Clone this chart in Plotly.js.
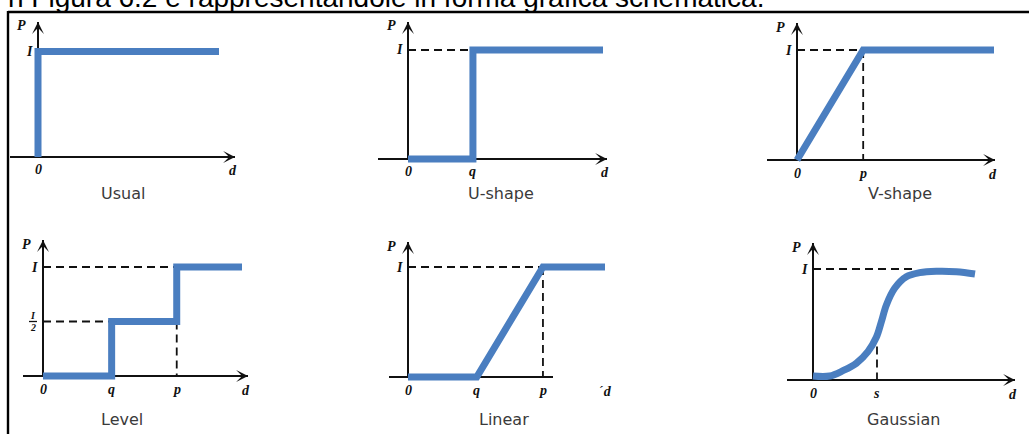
<!DOCTYPE html>
<html>
<head>
<meta charset="utf-8">
<script src="https://cdn.plot.ly/plotly-3.0.1.min.js"></script>
<style>
html, body { margin: 0; padding: 0; background: #fff; }
#chart { width: 1029px; height: 434px; }
</style>
</head>
<body>
<div id="chart"></div>
<script>
// thresholds (d in units of the curve end, P in units of I)
let qU = 0.333;
let pV = 0.336;
let qLevel = 0.345;
let pLevel = 0.672;
let qLinear = 0.349;
let pLinear = 0.685;
let sGauss = 0.395;
let gaussMeetD = 0.62;   // where the dashed I line runs under the curve
let gaussAtS = 0.42;     // curve height above s

let usualD = [0, 0, 1];
let usualP = [0, 1, 1];
let uShapeD = [0, qU, qU, 1];
let uShapeP = [0, 0, 1, 1];
let vShapeD = [0, pV, 1];
let vShapeP = [0, 1, 1];
let levelD = [0, qLevel, qLevel, pLevel, pLevel, 1];
let levelP = [0, 0, 0.5, 0.5, 1, 1];
let linearD = [0, qLinear, pLinear, 1];
let linearP = [0, 0, 1, 1];
let gaussD = [0, 0.103, 0.185, 0.267, 0.339, 0.391, 0.422, 0.453, 0.504, 0.576, 0.658, 0.761, 0.885, 1.0];
let gaussP = [0.036, 0.036, 0.084, 0.15, 0.255, 0.385, 0.525, 0.676, 0.826, 0.93, 0.967, 0.98, 0.976, 0.955];

let captions = ['Usual', 'U-shape', 'V-shape', 'Level', 'Linear', 'Gaussian'];
let tickText = [['0'], ['0', 'q'], ['0', 'p'], ['0', 'q', 'p'], ['0', 'q', 'p'], ['0', 's']];
let tickVals = [[0], [0, qU], [0, pV], [0, qLevel, pLevel], [0, qLinear, pLinear], [0, sGauss]];

let curves = [
    {d: usualD, p: usualP, smooth: false},
    {d: uShapeD, p: uShapeP, smooth: false},
    {d: vShapeD, p: vShapeP, smooth: false},
    {d: levelD, p: levelP, smooth: false},
    {d: linearD, p: linearP, smooth: false},
    {d: gaussD, p: gaussP, smooth: true}
];

// dashed guide segments [[d0, d1], [p0, p1]]
let guides = [
    [],
    [[[0, qU], [1, 1]]],
    [[[0, pV], [1, 1]], [[pV, pV], [1, 0]]],
    [[[0, pLevel], [1, 1]], [[0, qLevel], [0.5, 0.5]], [[pLevel, pLevel], [0.5, 0]]],
    [[[0, pLinear], [1, 1]], [[pLinear, pLinear], [1, 0]]],
    [[[0, gaussMeetD], [1, 1]], [[sGauss, sGauss], [gaussAtS, 0]]]
];

let W = 1029, H = 434;
let blue = '#4a7ec0';
let ink = '#111111';

// pixel frame of each sketch: origin, px per unit d / P, axis ends, caption centre
let frames = [
    {ox: 38, oy: 157, sx: 181, sy: 105.5, axL: 10, axR: 235, axT: 22, arrow: true, cx: 123, cy: 194},
    {ox: 408, oy: 159, sx: 195, sy: 109, axL: 378, axR: 607, axT: 22, arrow: true, cx: 501, cy: 194},
    {ox: 797, oy: 160, sx: 197, sy: 110, axL: 767, axR: 995, axT: 23, arrow: true, cx: 900, cy: 194},
    {ox: 43, oy: 376, sx: 199, sy: 109, axL: 23, axR: 248, axT: 240, arrow: true, cx: 122, cy: 419},
    {ox: 408, oy: 377, sx: 197, sy: 110, axL: 389, axR: 553, axT: 242, arrow: false, cx: 504, cy: 419},
    {ox: 813, oy: 380, sx: 162, sy: 111, axL: 787, axR: 1015, axT: 243, arrow: true, cx: 903, cy: 419}
];

let labelFont = {family: 'Liberation Serif, serif', size: 14, color: ink};

function it(t) {
    return '<b><i>' + t + '</i></b>';
}

let data = [];
let layout = {
    width: W,
    height: H,
    margin: {l: 0, r: 0, t: 0, b: 0},
    paper_bgcolor: '#ffffff',
    plot_bgcolor: 'rgba(0,0,0,0)',
    showlegend: false,
    annotations: [],
    shapes: []
};

for (let i = 0; i < 6; i++) {
    let f = frames[i];
    let n = i == 0 ? '' : String(i + 1);
    let xr = 'x' + n, yr = 'y' + n;
    let L = f.axL - 6;
    let R = Math.max(f.axR, f.ox + f.sx) + 8;
    let T = f.axT - 6;
    let B = f.oy + 8;
    layout['xaxis' + n] = {
        domain: [L / W, R / W],
        range: [(L - f.ox) / f.sx, (R - f.ox) / f.sx],
        visible: false, fixedrange: true, anchor: yr
    };
    layout['yaxis' + n] = {
        domain: [1 - B / H, 1 - T / H],
        range: [(f.oy - B) / f.sy, (f.oy - T) / f.sy],
        visible: false, fixedrange: true, anchor: xr
    };

    let xTip = (f.axR - f.ox) / f.sx;
    let xTail = (f.axL - f.ox) / f.sx;
    let yTip = (f.oy - f.axT) / f.sy;

    // axis lines under the curve
    layout.shapes.push({
        type: 'line', xref: xr, yref: yr, layer: 'below',
        x0: xTail, x1: xTip, y0: 0, y1: 0, line: {color: ink, width: 2}
    });
    layout.shapes.push({
        type: 'line', xref: xr, yref: yr, layer: 'below',
        x0: 0, x1: 0, y0: 0, y1: yTip, line: {color: ink, width: 2}
    });
    // arrow heads
    if (f.arrow) {
        layout.annotations.push({
            xref: xr, yref: yr, x: xTip, y: 0, ax: -12, ay: 0, text: '',
            showarrow: true, arrowhead: 3, arrowsize: 1.1, arrowwidth: 1.8, arrowcolor: ink, standoff: 0
        });
    }
    layout.annotations.push({
        xref: xr, yref: yr, x: 0, y: yTip, ax: 0, ay: 12, text: '',
        showarrow: true, arrowhead: 3, arrowsize: 1.1, arrowwidth: 1.8, arrowcolor: ink, standoff: 0
    });

    // dashed guides (under the curve)
    let gx = [], gy = [];
    for (let g of guides[i]) {
        gx.push(g[0][0], g[0][1], null);
        gy.push(g[1][0], g[1][1], null);
    }
    if (gx.length) {
        data.push({
            x: gx, y: gy, xaxis: xr, yaxis: yr,
            mode: 'lines', hoverinfo: 'skip',
            line: {color: ink, width: 1.8, dash: '8px,5px'}
        });
    }

    // the curve
    data.push({
        x: curves[i].d, y: curves[i].p, xaxis: xr, yaxis: yr,
        mode: 'lines', hoverinfo: 'skip',
        line: {color: blue, width: 7, shape: curves[i].smooth ? 'spline' : 'linear', smoothing: 1}
    });

    // tick labels
    for (let k = 0; k < tickText[i].length; k++) {
        layout.annotations.push({
            xref: xr, yref: yr, x: tickVals[i][k], y: 0, yshift: -13,
            text: it(tickText[i][k]), showarrow: false, font: labelFont
        });
    }
    layout.annotations.push({
        xref: xr, yref: yr, x: f.arrow ? xTip : 1, y: 0,
        xshift: f.arrow ? -2 : 0, yshift: -14,
        text: f.arrow ? it('d') : '´' + it('d'), showarrow: false, font: labelFont
    });
    layout.annotations.push({
        xref: xr, yref: yr, x: 0, y: yTip, xshift: -17, yshift: -4,
        text: it('P'), showarrow: false, font: labelFont
    });
    layout.annotations.push({
        xref: xr, yref: yr, x: 0, y: 1, xshift: -9,
        text: it('I'), showarrow: false, font: labelFont
    });
    if (i == 3) {
        layout.annotations.push({
            xref: xr, yref: yr, x: 0, y: 0.5, xshift: -10, yshift: 6,
            text: it('I'), showarrow: false, font: {family: labelFont.family, size: 10, color: ink}
        });
        layout.annotations.push({
            xref: xr, yref: yr, x: 0, y: 0.5, xshift: -10, yshift: -6,
            text: it('2'), showarrow: false, font: {family: labelFont.family, size: 10, color: ink}
        });
        layout.shapes.push({
            type: 'line', xref: xr, yref: yr, xsizemode: 'pixel', xanchor: 0,
            x0: -14, x1: -6, y0: 0.5, y1: 0.5, line: {color: ink, width: 1.3}
        });
    }

    // caption
    layout.annotations.push({
        xref: 'paper', yref: 'paper', x: f.cx / W, y: 1 - f.cy / H,
        xanchor: 'center', yanchor: 'middle',
        text: captions[i], showarrow: false,
        font: {family: 'DejaVu Sans, sans-serif', size: 16, color: '#3a3a3a'}
    });
}

// clipped line of running text above the figure box
layout.annotations.push({
    xref: 'paper', yref: 'paper', x: 0, y: 1, xanchor: 'left', yanchor: 'middle',
    xshift: 6, yshift: 3,
    text: 'n Figura 6.2 e rappresentandole in forma grafica schematica.',
    showarrow: false,
    font: {family: 'Liberation Sans, Arial, sans-serif', size: 28, color: '#000000'}
});
layout.shapes.push({
    type: 'line', xref: 'paper', yref: 'paper', x0: 8 / W, x1: 1, y0: 1 - 12 / H, y1: 1 - 12 / H,
    line: {color: '#000000', width: 2.4}
});
layout.shapes.push({
    type: 'line', xref: 'paper', yref: 'paper', x0: 8 / W, x1: 8 / W, y0: 1 - 11 / H, y1: 0,
    line: {color: '#000000', width: 2.4}
});

Plotly.newPlot('chart', data, layout, {staticPlot: true, displayModeBar: false});
</script>
</body>
</html>
